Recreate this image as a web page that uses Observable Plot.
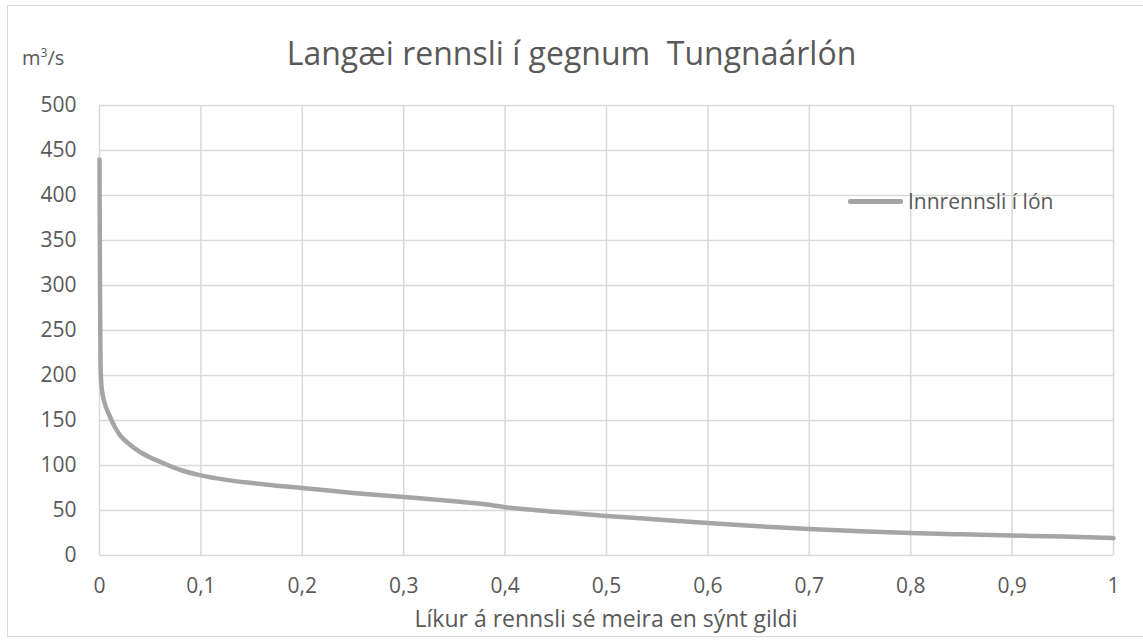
<!DOCTYPE html>
<html>
<head>
<meta charset="utf-8">
<script src="https://cdn.jsdelivr.net/npm/d3@7"></script>
<script src="https://cdn.jsdelivr.net/npm/@observablehq/plot@0.6"></script>
<style>
  html, body { margin: 0; padding: 0; background: #fff; overflow: hidden; }
  #wrap { position: relative; width: 1143px; height: 641px; font-family: "Open Sans", sans-serif; color: #595959; }
  #border { position: absolute; left: 7px; top: 5px; width: 1150px; height: 632px; border: 1.5px solid #d9d9d9; box-sizing: border-box; }
  #chart { position: absolute; left: 0; top: 0; }
  .lbl { position: absolute; white-space: pre; line-height: 1; }
  #title { left: 0; width: 1143px; text-align: center; top: 37px; font-size: 32px; }
  #unit { left: 22px; top: 47px; font-size: 20px; }
  #xlabel { left: 99px; width: 1014px; text-align: center; top: 607px; font-size: 23px; }
  #legend { left: 848px; top: 191px; font-size: 21px; display: flex; align-items: center; }
  #legend .sw { display: inline-block; width: 55px; height: 4.5px; background: #a5a5a5; border-radius: 2px; margin-right: 5px; }
</style>
</head>
<body>
<div id="wrap">
  <div id="border"></div>
  <div id="chart"></div>
  <div class="lbl" id="title">Langæi rennsli í gegnum  Tungnaárlón</div>
  <div class="lbl" id="unit">m<sup style="font-size:12px;vertical-align:8px">3</sup>/s</div>
  <div class="lbl" id="xlabel">Líkur á rennsli sé meira en sýnt gildi</div>
  <div class="lbl" id="legend"><span class="sw"></span><span>Innrennsli í lón</span></div>
</div>
<script>
const seriesName = "Innrennsli í lón";
const probability = [0, 0.0005, 0.001, 0.002, 0.004, 0.007, 0.01, 0.015, 0.02, 0.03, 0.04, 0.05, 0.06, 0.08, 0.1, 0.125, 0.15, 0.175, 0.2, 0.25, 0.3, 0.35, 0.38, 0.4, 0.45, 0.5, 0.55, 0.6, 0.65, 0.7, 0.75, 0.8, 0.85, 0.9, 0.95, 1.0];
const flow = [440, 300, 212, 188, 174, 163, 155, 143, 134, 123, 115, 109, 104, 95, 89, 84, 80.5, 77.5, 75, 69.5, 65, 60.3, 57, 53.7, 48.5, 44, 40, 36, 32.5, 29.5, 27, 25, 23.5, 22.2, 21, 19.3];
const xTicks = [0, 0.1, 0.2, 0.3, 0.4, 0.5, 0.6, 0.7, 0.8, 0.9, 1];
const yTicks = [0, 50, 100, 150, 200, 250, 300, 350, 400, 450, 500];

const data = probability.map((p, i) => ({p, q: flow[i]}));
const fmt = d => String(d).replace(".", ",");

const chart = Plot.plot({
  width: 1143,
  height: 641,
  marginLeft: 99,
  marginRight: 30,
  marginTop: 105,
  marginBottom: 86,
  style: {fontFamily: "'Open Sans', sans-serif", fontSize: "21px", color: "#595959", background: "transparent"},
  x: {domain: [0, 1]},
  y: {domain: [0, 500]},
  marks: [
    Plot.gridX(xTicks, {stroke: "#d9d9d9", strokeOpacity: 1, strokeWidth: 1.5}),
    Plot.gridY(yTicks, {stroke: "#d9d9d9", strokeOpacity: 1, strokeWidth: 1.5}),
    Plot.axisX(xTicks, {tickSize: 0, tickPadding: 23, tickFormat: fmt, label: null, fill: "#595959"}),
    Plot.axisY(yTicks, {tickSize: 0, tickPadding: 23, label: null, fill: "#595959"}),
    Plot.line(data, {x: "p", y: "q", stroke: "#a5a5a5", strokeWidth: 4.5, curve: "monotone-x", title: () => seriesName})
  ]
});
document.getElementById("chart").appendChild(chart);
</script>
</body>
</html>
